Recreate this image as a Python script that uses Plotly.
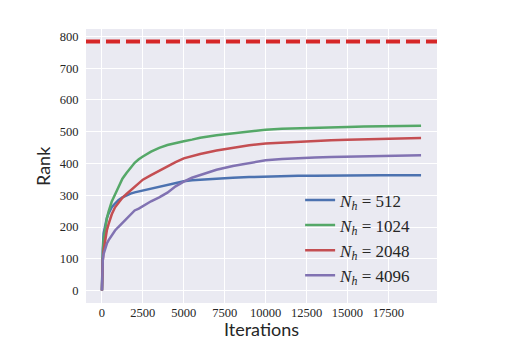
import plotly.graph_objects as go

iterations = [0, 20, 50, 100, 200, 300, 400, 600, 800, 1000, 1250, 1500, 1750, 2000, 2250, 2500,
              3000, 3500, 4000, 4500, 5000, 5500, 6000, 7000, 8000, 9000, 10000, 11000, 12000,
              13000, 14000, 15000, 16000, 17000, 18000, 19000, 19500]

rank_512 = [0, 70, 130, 180, 210, 228, 242, 262, 274, 284, 293, 300, 305, 309, 312, 315,
            321, 328, 334, 340, 344, 347, 349, 352, 355, 357, 359, 360, 361,
            361, 362, 362, 362, 363, 363, 363, 363]
rank_1024 = [0, 60, 115, 160, 200, 227, 248, 280, 302, 325, 352, 370, 386, 402, 413, 422,
             437, 449, 458, 465, 470, 475, 481, 489, 495, 501, 506, 509, 511,
             512, 514, 515, 516, 517, 518, 519, 519]
rank_2048 = [0, 50, 95, 125, 165, 190, 208, 240, 262, 277, 292, 304, 315, 328, 340, 349,
             363, 377, 390, 404, 416, 424, 430, 441, 450, 457, 463, 466, 469,
             471, 473, 475, 476, 477, 478, 479, 480]
rank_4096 = [0, 60, 95, 115, 136, 148, 158, 175, 189, 200, 213, 226, 240, 252, 258, 266,
             281, 293, 308, 328, 343, 355, 364, 380, 392, 401, 410, 414, 417,
             419, 420, 421, 422, 424, 425, 426, 426]

full_rank = 784
series_names = ["512", "1024", "2048", "4096"]
series_values = [rank_512, rank_1024, rank_2048, rank_4096]
colors = ["#4C72B0", "#55A868", "#C44E52", "#8172B2"]

x_ticks = [0, 2500, 5000, 7500, 10000, 12500, 15000, 17500]
y_ticks = [0, 100, 200, 300, 400, 500, 600, 700, 800]

fig = go.Figure()
for name, vals, c in zip(series_names, series_values, colors):
    fig.add_trace(go.Scatter(
        x=iterations, y=vals, mode="lines",
        line=dict(color=c, width=2.5),
        name="<i>N</i><sub><i>h</i></sub> = " + name,
    ))

fig.add_shape(type="line", xref="paper", x0=0, x1=1, yref="y", y0=full_rank, y1=full_rank,
              line=dict(color="#d62728", width=4, dash="14px,6px"), layer="above")

serif = "Liberation Serif"
tick_font = dict(family=serif, size=12.5, color="#262626")
title_font = dict(family="Lato", size=18, color="#262626")

fig.add_annotation(text="Iterations", xref="paper", yref="paper", x=0.5, y=0,
                   yshift=-26, xanchor="center", yanchor="middle", showarrow=False, font=title_font)
fig.add_annotation(text="Rank", xref="paper", yref="paper", x=0, y=0.5, textangle=-90,
                   xshift=-43, xanchor="center", yanchor="middle", showarrow=False, font=title_font)

fig.update_layout(
    width=519, height=364,
    margin=dict(l=78, r=90, t=21, b=69, autoexpand=False),
    paper_bgcolor="white",
    plot_bgcolor="#EAEAF2",
    showlegend=True,
    legend=dict(x=0.61, y=0.035, xanchor="left", yanchor="bottom",
                bgcolor="rgba(0,0,0,0)",
                font=dict(family=serif, size=17, color="#262626"),
                tracegroupgap=0, itemwidth=30),
    xaxis=dict(range=[-975, 20475], tickvals=x_ticks, ticktext=[str(v) for v in x_ticks],
               showgrid=True, gridcolor="white", gridwidth=1.3, zeroline=False, automargin=False,
               showline=False, ticks="", tickfont=tick_font),
    yaxis=dict(range=[-39.2, 823.2], tickvals=y_ticks, ticktext=[str(v) for v in y_ticks],
               showgrid=True, gridcolor="white", gridwidth=1.3, zeroline=False, automargin=False,
               showline=False, ticks="outside", ticklen=4, tickcolor="rgba(0,0,0,0)",
               tickfont=tick_font),
)

fig.write_html("out.html")
